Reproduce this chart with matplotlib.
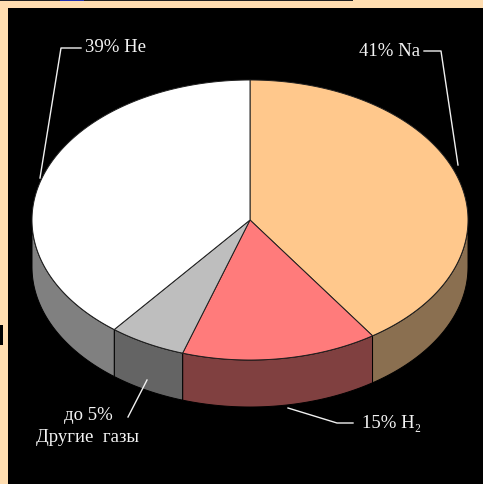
import numpy as np
import matplotlib
matplotlib.use("Agg")
import matplotlib.pyplot as plt
from matplotlib.patches import Polygon, Rectangle

# Slice shares as drawn, clockwise from the top
slice_names = ["Na", "H2", "Other", "He"]
slice_shares = [40.5, 14.5, 5.7, 39.3]
top_colors = ["#FFC88C", "#FF7B7B", "#BEBEBE", "#FFFFFF"]
side_colors = ["#8A6F50", "#804040", "#646464", "#808080"]

label_texts = ["39% He", "41% Na", "15% H₂", "до 5%", "Другие  газы"]

W, H = 483, 484
cx, cy, rx, ry, depth = 250, 220, 218, 140, 47

fig = plt.figure(figsize=(W / 100, H / 100), dpi=100, facecolor="#FFDDB0")
ax = fig.add_axes([0, 0, 1, 1])
ax.set_xlim(0, W)
ax.set_ylim(H, 0)
ax.axis("off")

# frame pieces
ax.add_patch(Rectangle((8, 8), W, H, fc="black", ec="none", zorder=1))
ax.add_patch(Rectangle((0, 0), 353, 1, fc="#202020", ec="none", zorder=1))
ax.add_patch(Rectangle((60, 0), 24, 1, fc="#2030B0", ec="none", zorder=2))
ax.add_patch(Rectangle((0, 325), 3, 20, fc="black", ec="none", zorder=2))


def rim(t):
    t = np.radians(t)
    return cx + rx * np.sin(t), cy - ry * np.cos(t)


edges = np.concatenate([[0], np.cumsum(slice_shares)]) * 3.6
for i in range(len(slice_shares)):
    a, b = edges[i], edges[i + 1]
    lo, hi = max(a, 90), min(b, 270)
    if hi > lo:
        ts = np.linspace(lo, hi, 120)
        x, y = rim(ts)
        pts = np.r_[np.c_[x, y], np.c_[x, y + depth][::-1]]
        ax.add_patch(Polygon(pts, closed=True, fc=side_colors[i], ec="black", lw=0.7, zorder=3))

for i in range(len(slice_shares)):
    ts = np.linspace(edges[i], edges[i + 1], 200)
    x, y = rim(ts)
    pts = np.r_[[[cx, cy]], np.c_[x, y]]
    ax.add_patch(Polygon(pts, closed=True, fc=top_colors[i], ec="#202020", lw=0.7, zorder=4))

# leader lines
leaders = [
    ([81, 61, 40], [48, 48, 178]),
    ([424, 441, 458], [51, 51, 165]),
    ([288, 337, 353], [408, 423, 423]),
    ([128, 147], [417, 380]),
]
for lx, ly in leaders:
    ax.plot(lx, ly, color="#F0F0F0", lw=1.0, zorder=5)

fonts = ["Liberation Serif", "DejaVu Serif"]
positions = [(85, 48, "left"), (420, 52, "right"), (362, 423, "left"), (88, 416, "center"), (88, 438, "center")]
for s, (px, py, ha) in zip(label_texts, positions):
    ax.text(px, py, s, color="#F4F4F4", fontsize=13.5, family=fonts, ha=ha, va="center", zorder=6)

fig.savefig("out.png", dpi=100, facecolor=fig.get_facecolor())
